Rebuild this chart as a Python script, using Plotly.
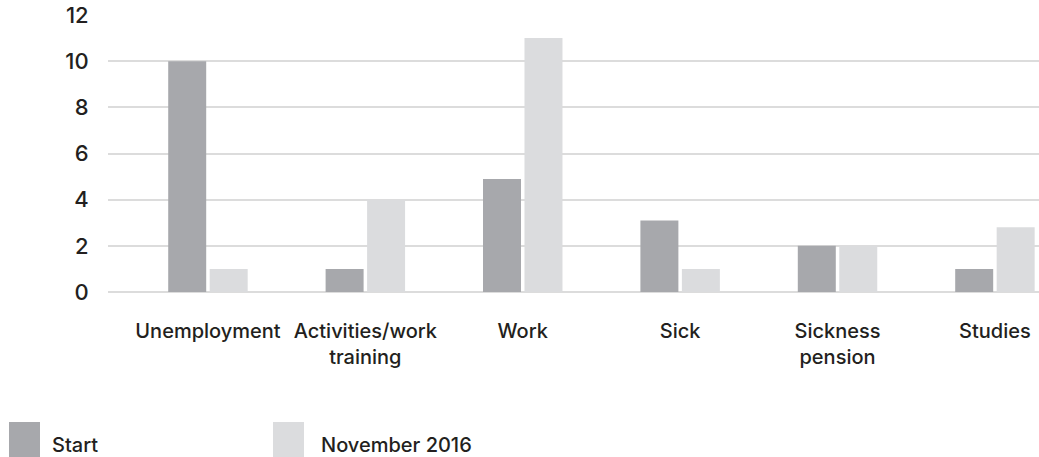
import plotly.graph_objects as go

# Outcome categories and counts at start vs. November 2016
categories = ["Unemployment", "Activities/work<br>training", "Work", "Sick",
              "Sickness<br>pension", "Studies"]
start_values = [10, 1, 4.9, 3.1, 2, 1]
nov2016_values = [1, 4, 11, 1, 2, 2.8]
series_names = ["Start", "November 2016"]
y_ticks = [0, 2, 4, 6, 8, 10, 12]

# Styling
DARK = "#a7a8ac"
LIGHT = "#dbdcde"
TEXT = "#231f20"
GRID = "#dcdcdc"
FONT = "Inter"

W, H = 1039, 457
M_L, M_R, M_T, M_B = 108, 0, 15, 165
PW = W - M_L - M_R
PH = H - M_T - M_B

fig = go.Figure()
fig.add_trace(go.Bar(x=categories, y=start_values, name=series_names[0],
                     marker=dict(color=DARK, line=dict(width=0)), showlegend=False))
fig.add_trace(go.Bar(x=categories, y=nov2016_values, name=series_names[1],
                     marker=dict(color=LIGHT, line=dict(width=0)), showlegend=False))


def px_x(px):
    return (px - M_L) / PW


def px_y(py):
    return (H - M_B - py) / PH


# Hand-placed legend below the axis
shapes = []
annotations = []
legend_items = [(series_names[0], DARK, 9, 50), (series_names[1], LIGHT, 273, 319)]
for label, color, sx, tx in legend_items:
    shapes.append(dict(type="rect", xref="paper", yref="paper",
                       x0=px_x(sx), x1=px_x(sx + 31), y0=px_y(470), y1=px_y(422),
                       fillcolor=color, line=dict(width=0), layer="above"))
    annotations.append(dict(text=label, xref="paper", yref="paper",
                            x=px_x(tx), y=px_y(445), xanchor="left", yanchor="middle",
                            showarrow=False,
                            font=dict(family=FONT, size=20, color=TEXT, weight=500)))

fig.update_layout(
    width=W, height=H,
    margin=dict(l=M_L, r=M_R, t=M_T, b=M_B, pad=0),
    paper_bgcolor="white", plot_bgcolor="white",
    barmode="group", bargap=0.473, bargroupgap=0.084,
    font=dict(family=FONT, color=TEXT),
    shapes=shapes, annotations=annotations,
    xaxis=dict(range=[-0.635, 5.28], showgrid=False, showline=False, zeroline=False,
               ticks="outside", ticklen=21, tickcolor="rgba(0,0,0,0)",
               tickfont=dict(family=FONT, size=20, color=TEXT, weight=500)),
    yaxis=dict(range=[0, 12], tickvals=y_ticks, showgrid=True, gridcolor=GRID, gridwidth=1.6,
               zeroline=True, zerolinecolor=GRID, zerolinewidth=1.6, showline=False,
               ticks="outside", ticklen=14, tickcolor="rgba(0,0,0,0)",
               tickfont=dict(family=FONT, size=22, color=TEXT, weight=500)),
)

fig.write_html("out.html")
